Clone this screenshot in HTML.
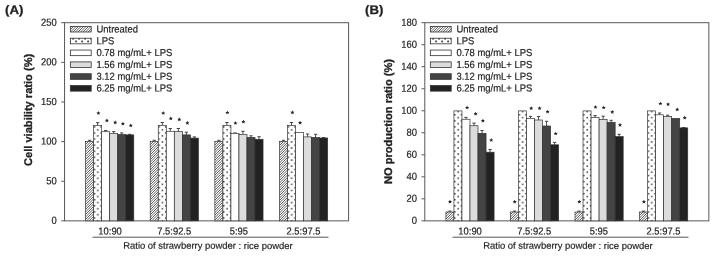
<!DOCTYPE html>
<html><head><meta charset="utf-8"><title>Chart</title>
<style>
html,body{margin:0;padding:0;background:#fff;}
body{width:712px;height:257px;overflow:hidden;}
svg{display:block;opacity:0.999;will-change:transform;}
text{font-family:"Liberation Sans",sans-serif;fill:#222;text-rendering:geometricPrecision;stroke:#222;stroke-width:0.18px;}
.t{font-size:9.45px;}
.x{font-size:9.4px;}
.xt{font-size:9.45px;}
.l{font-size:9.45px;}
.yt{font-size:11.1px;font-weight:bold;stroke:#222;stroke-width:0.3px;}
.lt{font-size:13.2px;font-weight:bold;stroke:#222;stroke-width:0.3px;}
</style></head><body>
<svg width="712" height="257" viewBox="0 0 712 257">
<defs>
<pattern id="hatch" width="2" height="2" patternUnits="userSpaceOnUse">
<rect width="2" height="2" fill="#ececec"/><rect width="1" height="1" fill="#606060"/><rect x="1" y="1" width="1" height="1" fill="#606060"/>
</pattern>
<pattern id="dots" width="6.6" height="6" patternUnits="userSpaceOnUse" patternTransform="translate(-3.9 -0.1)">
<rect width="6.6" height="6" fill="#fff"/>
<circle cx="1.65" cy="1.5" r="0.78" fill="#555"/><circle cx="4.95" cy="4.3" r="0.78" fill="#555"/>
</pattern>
<pattern id="ldots" width="6" height="6" patternUnits="userSpaceOnUse" patternTransform="translate(72 37.9)">
<rect width="6" height="6" fill="#fff"/>
<circle cx="1.1" cy="0.7" r="1.0" fill="#3a3a3a"/><circle cx="4.1" cy="3.6" r="1.0" fill="#3a3a3a"/>
</pattern>
</defs>
<rect width="712" height="257" fill="#fff"/>
<rect x="64.55" y="22.7" width="284.05" height="198.15" fill="none" stroke="#585858" stroke-width="1"/>
<line x1="61.25" y1="220.85" x2="64.55" y2="220.85" stroke="#585858" stroke-width="1"/>
<text transform="translate(56.8 223.8) rotate(0.05) scale(1.0 1.08)" text-anchor="end" class="t">0</text>
<line x1="61.25" y1="181.22" x2="64.55" y2="181.22" stroke="#585858" stroke-width="1"/>
<text transform="translate(56.8 184.17) rotate(0.05) scale(1.0 1.08)" text-anchor="end" class="t">50</text>
<line x1="61.25" y1="141.59" x2="64.55" y2="141.59" stroke="#585858" stroke-width="1"/>
<text transform="translate(56.8 144.54) rotate(0.05) scale(1.0 1.08)" text-anchor="end" class="t">100</text>
<line x1="61.25" y1="101.96" x2="64.55" y2="101.96" stroke="#585858" stroke-width="1"/>
<text transform="translate(56.8 104.91) rotate(0.05) scale(1.0 1.08)" text-anchor="end" class="t">150</text>
<line x1="61.25" y1="62.33" x2="64.55" y2="62.33" stroke="#585858" stroke-width="1"/>
<text transform="translate(56.8 65.28) rotate(0.05) scale(1.0 1.08)" text-anchor="end" class="t">200</text>
<line x1="61.25" y1="22.7" x2="64.55" y2="22.7" stroke="#585858" stroke-width="1"/>
<text transform="translate(56.8 25.65) rotate(0.05) scale(1.0 1.08)" text-anchor="end" class="t">250</text>
<path d="M89.61 141.4V140.3M87.96 140.3H91.27" stroke="#333" stroke-width="0.9" fill="none"/>
<clipPath id="c1"><rect x="85.6" y="141.4" width="8.03" height="79.45"/></clipPath><rect x="85.6" y="141.4" width="8.03" height="79.45" fill="#fff"/><path clip-path="url(#c1)" d="M3.65 221.35L84.1 140.9M6.15 221.35L86.6 140.9M8.65 221.35L89.1 140.9M11.15 221.35L91.6 140.9M13.65 221.35L94.1 140.9M16.15 221.35L96.6 140.9M18.65 221.35L99.1 140.9M21.15 221.35L101.6 140.9M23.65 221.35L104.1 140.9M26.15 221.35L106.6 140.9M28.65 221.35L109.1 140.9M31.15 221.35L111.6 140.9M33.65 221.35L114.1 140.9M36.15 221.35L116.6 140.9M38.65 221.35L119.1 140.9M41.15 221.35L121.6 140.9M43.65 221.35L124.1 140.9M46.15 221.35L126.6 140.9M48.65 221.35L129.1 140.9M51.15 221.35L131.6 140.9M53.65 221.35L134.1 140.9M56.15 221.35L136.6 140.9M58.65 221.35L139.1 140.9M61.15 221.35L141.6 140.9M63.65 221.35L144.1 140.9M66.15 221.35L146.6 140.9M68.65 221.35L149.1 140.9M71.15 221.35L151.6 140.9M73.65 221.35L154.1 140.9M76.15 221.35L156.6 140.9M78.65 221.35L159.1 140.9M81.15 221.35L161.6 140.9M83.65 221.35L164.1 140.9M86.15 221.35L166.6 140.9M88.65 221.35L169.1 140.9M91.15 221.35L171.6 140.9M93.65 221.35L174.1 140.9" stroke="#444" stroke-width="0.85" fill="none"/><rect x="85.6" y="141.4" width="8.03" height="79.45" fill="none" stroke="#333" stroke-width="0.7"/>
<path d="M97.64 125.4V122.6M95.99 122.6H99.3" stroke="#333" stroke-width="0.9" fill="none"/>
<pattern id="dA0" width="6.7" height="6.07" patternUnits="userSpaceOnUse" patternTransform="translate(92.8 4.02)"><rect width="6.7" height="6.07" fill="#fff"/><circle cx="1.68" cy="1.52" r="0.88" fill="#404040"/><circle cx="5.03" cy="4.32" r="0.88" fill="#404040"/></pattern>
<rect x="93.63" y="125.4" width="8.03" height="95.45" fill="url(#dA0)" stroke="#333" stroke-width="0.7"/>
<path d="M105.67 131.7V130.5M104.02 130.5H107.33" stroke="#333" stroke-width="0.9" fill="none"/>
<rect x="101.66" y="131.7" width="8.03" height="89.15" fill="#ffffff" stroke="#333" stroke-width="0.7"/>
<path d="M113.7 133.5V131.6M112.05 131.6H115.36" stroke="#333" stroke-width="0.9" fill="none"/>
<rect x="109.69" y="133.5" width="8.03" height="87.35" fill="#dcdcdc" stroke="#333" stroke-width="0.7"/>
<path d="M121.73 134.5V132.9M120.08 132.9H123.39" stroke="#333" stroke-width="0.9" fill="none"/>
<rect x="117.72" y="134.5" width="8.03" height="86.35" fill="#444444" stroke="#333" stroke-width="0.7"/>
<path d="M129.76 134.9V134.3M128.11 134.3H131.41" stroke="#333" stroke-width="0.9" fill="none"/>
<rect x="125.75" y="134.9" width="8.03" height="85.95" fill="#222222" stroke="#333" stroke-width="0.7"/>
<path transform="translate(98.4 113.1)" d="M0 -2.05L0.62 -0.72L2.05 -0.62L0.98 0.3L1.3 1.75L0 1.0L-1.3 1.75L-0.98 0.3L-2.05 -0.62L-0.62 -0.72Z" fill="#222"/>
<path transform="translate(106.9 120.5)" d="M0 -2.05L0.62 -0.72L2.05 -0.62L0.98 0.3L1.3 1.75L0 1.0L-1.3 1.75L-0.98 0.3L-2.05 -0.62L-0.62 -0.72Z" fill="#222"/>
<path transform="translate(115.2 122.4)" d="M0 -2.05L0.62 -0.72L2.05 -0.62L0.98 0.3L1.3 1.75L0 1.0L-1.3 1.75L-0.98 0.3L-2.05 -0.62L-0.62 -0.72Z" fill="#222"/>
<path transform="translate(122.9 123.8)" d="M0 -2.05L0.62 -0.72L2.05 -0.62L0.98 0.3L1.3 1.75L0 1.0L-1.3 1.75L-0.98 0.3L-2.05 -0.62L-0.62 -0.72Z" fill="#222"/>
<path transform="translate(130.8 125.5)" d="M0 -2.05L0.62 -0.72L2.05 -0.62L0.98 0.3L1.3 1.75L0 1.0L-1.3 1.75L-0.98 0.3L-2.05 -0.62L-0.62 -0.72Z" fill="#222"/>
<path d="M154.24 141.4V140.3M152.59 140.3H155.89" stroke="#333" stroke-width="0.9" fill="none"/>
<clipPath id="c2"><rect x="150.23" y="141.4" width="8.03" height="79.45"/></clipPath><rect x="150.23" y="141.4" width="8.03" height="79.45" fill="#fff"/><path clip-path="url(#c2)" d="M68.65 221.35L149.1 140.9M71.15 221.35L151.6 140.9M73.65 221.35L154.1 140.9M76.15 221.35L156.6 140.9M78.65 221.35L159.1 140.9M81.15 221.35L161.6 140.9M83.65 221.35L164.1 140.9M86.15 221.35L166.6 140.9M88.65 221.35L169.1 140.9M91.15 221.35L171.6 140.9M93.65 221.35L174.1 140.9M96.15 221.35L176.6 140.9M98.65 221.35L179.1 140.9M101.15 221.35L181.6 140.9M103.65 221.35L184.1 140.9M106.15 221.35L186.6 140.9M108.65 221.35L189.1 140.9M111.15 221.35L191.6 140.9M113.65 221.35L194.1 140.9M116.15 221.35L196.6 140.9M118.65 221.35L199.1 140.9M121.15 221.35L201.6 140.9M123.65 221.35L204.1 140.9M126.15 221.35L206.6 140.9M128.65 221.35L209.1 140.9M131.15 221.35L211.6 140.9M133.65 221.35L214.1 140.9M136.15 221.35L216.6 140.9M138.65 221.35L219.1 140.9M141.15 221.35L221.6 140.9M143.65 221.35L224.1 140.9M146.15 221.35L226.6 140.9M148.65 221.35L229.1 140.9M151.15 221.35L231.6 140.9M153.65 221.35L234.1 140.9M156.15 221.35L236.6 140.9M158.65 221.35L239.1 140.9" stroke="#444" stroke-width="0.85" fill="none"/><rect x="150.23" y="141.4" width="8.03" height="79.45" fill="none" stroke="#333" stroke-width="0.7"/>
<path d="M162.27 125.4V122.5M160.62 122.5H163.92" stroke="#333" stroke-width="0.9" fill="none"/>
<pattern id="dA1" width="6.7" height="6.07" patternUnits="userSpaceOnUse" patternTransform="translate(157.43 4.02)"><rect width="6.7" height="6.07" fill="#fff"/><circle cx="1.68" cy="1.52" r="0.88" fill="#404040"/><circle cx="5.03" cy="4.32" r="0.88" fill="#404040"/></pattern>
<rect x="158.26" y="125.4" width="8.03" height="95.45" fill="url(#dA1)" stroke="#333" stroke-width="0.7"/>
<path d="M170.3 131.3V128.5M168.65 128.5H171.95" stroke="#333" stroke-width="0.9" fill="none"/>
<rect x="166.29" y="131.3" width="8.03" height="89.55" fill="#ffffff" stroke="#333" stroke-width="0.7"/>
<path d="M178.33 131.5V128.5M176.68 128.5H179.98" stroke="#333" stroke-width="0.9" fill="none"/>
<rect x="174.32" y="131.5" width="8.03" height="89.35" fill="#dcdcdc" stroke="#333" stroke-width="0.7"/>
<path d="M186.36 134.9V132.2M184.71 132.2H188.01" stroke="#333" stroke-width="0.9" fill="none"/>
<rect x="182.35" y="134.9" width="8.03" height="85.95" fill="#444444" stroke="#333" stroke-width="0.7"/>
<path d="M194.39 138.1V136.9M192.74 136.9H196.04" stroke="#333" stroke-width="0.9" fill="none"/>
<rect x="190.38" y="138.1" width="8.03" height="82.75" fill="#222222" stroke="#333" stroke-width="0.7"/>
<path transform="translate(163.2 113.1)" d="M0 -2.05L0.62 -0.72L2.05 -0.62L0.98 0.3L1.3 1.75L0 1.0L-1.3 1.75L-0.98 0.3L-2.05 -0.62L-0.62 -0.72Z" fill="#222"/>
<path transform="translate(170.8 118.5)" d="M0 -2.05L0.62 -0.72L2.05 -0.62L0.98 0.3L1.3 1.75L0 1.0L-1.3 1.75L-0.98 0.3L-2.05 -0.62L-0.62 -0.72Z" fill="#222"/>
<path transform="translate(179.3 119.4)" d="M0 -2.05L0.62 -0.72L2.05 -0.62L0.98 0.3L1.3 1.75L0 1.0L-1.3 1.75L-0.98 0.3L-2.05 -0.62L-0.62 -0.72Z" fill="#222"/>
<path transform="translate(187.4 122.9)" d="M0 -2.05L0.62 -0.72L2.05 -0.62L0.98 0.3L1.3 1.75L0 1.0L-1.3 1.75L-0.98 0.3L-2.05 -0.62L-0.62 -0.72Z" fill="#222"/>
<path d="M218.87 141.4V140.3M217.22 140.3H220.52" stroke="#333" stroke-width="0.9" fill="none"/>
<clipPath id="c3"><rect x="214.86" y="141.4" width="8.03" height="79.45"/></clipPath><rect x="214.86" y="141.4" width="8.03" height="79.45" fill="#fff"/><path clip-path="url(#c3)" d="M133.65 221.35L214.1 140.9M136.15 221.35L216.6 140.9M138.65 221.35L219.1 140.9M141.15 221.35L221.6 140.9M143.65 221.35L224.1 140.9M146.15 221.35L226.6 140.9M148.65 221.35L229.1 140.9M151.15 221.35L231.6 140.9M153.65 221.35L234.1 140.9M156.15 221.35L236.6 140.9M158.65 221.35L239.1 140.9M161.15 221.35L241.6 140.9M163.65 221.35L244.1 140.9M166.15 221.35L246.6 140.9M168.65 221.35L249.1 140.9M171.15 221.35L251.6 140.9M173.65 221.35L254.1 140.9M176.15 221.35L256.6 140.9M178.65 221.35L259.1 140.9M181.15 221.35L261.6 140.9M183.65 221.35L264.1 140.9M186.15 221.35L266.6 140.9M188.65 221.35L269.1 140.9M191.15 221.35L271.6 140.9M193.65 221.35L274.1 140.9M196.15 221.35L276.6 140.9M198.65 221.35L279.1 140.9M201.15 221.35L281.6 140.9M203.65 221.35L284.1 140.9M206.15 221.35L286.6 140.9M208.65 221.35L289.1 140.9M211.15 221.35L291.6 140.9M213.65 221.35L294.1 140.9M216.15 221.35L296.6 140.9M218.65 221.35L299.1 140.9M221.15 221.35L301.6 140.9M223.65 221.35L304.1 140.9" stroke="#444" stroke-width="0.85" fill="none"/><rect x="214.86" y="141.4" width="8.03" height="79.45" fill="none" stroke="#333" stroke-width="0.7"/>
<path d="M226.9 125.4V122.5M225.25 122.5H228.55" stroke="#333" stroke-width="0.9" fill="none"/>
<pattern id="dA2" width="6.7" height="6.07" patternUnits="userSpaceOnUse" patternTransform="translate(222.06 4.02)"><rect width="6.7" height="6.07" fill="#fff"/><circle cx="1.68" cy="1.52" r="0.88" fill="#404040"/><circle cx="5.03" cy="4.32" r="0.88" fill="#404040"/></pattern>
<rect x="222.89" y="125.4" width="8.03" height="95.45" fill="url(#dA2)" stroke="#333" stroke-width="0.7"/>
<path d="M234.93 133.4V132.9M233.28 132.9H236.58" stroke="#333" stroke-width="0.9" fill="none"/>
<rect x="230.92" y="133.4" width="8.03" height="87.45" fill="#ffffff" stroke="#333" stroke-width="0.7"/>
<path d="M242.96 134.5V131.3M241.31 131.3H244.61" stroke="#333" stroke-width="0.9" fill="none"/>
<rect x="238.95" y="134.5" width="8.03" height="86.35" fill="#dcdcdc" stroke="#333" stroke-width="0.7"/>
<path d="M250.99 137.4V135.8M249.34 135.8H252.64" stroke="#333" stroke-width="0.9" fill="none"/>
<rect x="246.98" y="137.4" width="8.03" height="83.45" fill="#444444" stroke="#333" stroke-width="0.7"/>
<path d="M259.02 139.3V136.7M257.38 136.7H260.67" stroke="#333" stroke-width="0.9" fill="none"/>
<rect x="255.01" y="139.3" width="8.03" height="81.55" fill="#222222" stroke="#333" stroke-width="0.7"/>
<path transform="translate(227.4 112.6)" d="M0 -2.05L0.62 -0.72L2.05 -0.62L0.98 0.3L1.3 1.75L0 1.0L-1.3 1.75L-0.98 0.3L-2.05 -0.62L-0.62 -0.72Z" fill="#222"/>
<path transform="translate(235.4 123.1)" d="M0 -2.05L0.62 -0.72L2.05 -0.62L0.98 0.3L1.3 1.75L0 1.0L-1.3 1.75L-0.98 0.3L-2.05 -0.62L-0.62 -0.72Z" fill="#222"/>
<path transform="translate(243.4 121.7)" d="M0 -2.05L0.62 -0.72L2.05 -0.62L0.98 0.3L1.3 1.75L0 1.0L-1.3 1.75L-0.98 0.3L-2.05 -0.62L-0.62 -0.72Z" fill="#222"/>
<path d="M283.5 141.4V140.3M281.86 140.3H285.15" stroke="#333" stroke-width="0.9" fill="none"/>
<clipPath id="c4"><rect x="279.49" y="141.4" width="8.03" height="79.45"/></clipPath><rect x="279.49" y="141.4" width="8.03" height="79.45" fill="#fff"/><path clip-path="url(#c4)" d="M198.65 221.35L279.1 140.9M201.15 221.35L281.6 140.9M203.65 221.35L284.1 140.9M206.15 221.35L286.6 140.9M208.65 221.35L289.1 140.9M211.15 221.35L291.6 140.9M213.65 221.35L294.1 140.9M216.15 221.35L296.6 140.9M218.65 221.35L299.1 140.9M221.15 221.35L301.6 140.9M223.65 221.35L304.1 140.9M226.15 221.35L306.6 140.9M228.65 221.35L309.1 140.9M231.15 221.35L311.6 140.9M233.65 221.35L314.1 140.9M236.15 221.35L316.6 140.9M238.65 221.35L319.1 140.9M241.15 221.35L321.6 140.9M243.65 221.35L324.1 140.9M246.15 221.35L326.6 140.9M248.65 221.35L329.1 140.9M251.15 221.35L331.6 140.9M253.65 221.35L334.1 140.9M256.15 221.35L336.6 140.9M258.65 221.35L339.1 140.9M261.15 221.35L341.6 140.9M263.65 221.35L344.1 140.9M266.15 221.35L346.6 140.9M268.65 221.35L349.1 140.9M271.15 221.35L351.6 140.9M273.65 221.35L354.1 140.9M276.15 221.35L356.6 140.9M278.65 221.35L359.1 140.9M281.15 221.35L361.6 140.9M283.65 221.35L364.1 140.9M286.15 221.35L366.6 140.9M288.65 221.35L369.1 140.9" stroke="#444" stroke-width="0.85" fill="none"/><rect x="279.49" y="141.4" width="8.03" height="79.45" fill="none" stroke="#333" stroke-width="0.7"/>
<path d="M291.53 125.4V122.5M289.88 122.5H293.18" stroke="#333" stroke-width="0.9" fill="none"/>
<pattern id="dA3" width="6.7" height="6.07" patternUnits="userSpaceOnUse" patternTransform="translate(286.69 4.02)"><rect width="6.7" height="6.07" fill="#fff"/><circle cx="1.68" cy="1.52" r="0.88" fill="#404040"/><circle cx="5.03" cy="4.32" r="0.88" fill="#404040"/></pattern>
<rect x="287.52" y="125.4" width="8.03" height="95.45" fill="url(#dA3)" stroke="#333" stroke-width="0.7"/>
<rect x="295.55" y="132.5" width="8.03" height="88.35" fill="#ffffff" stroke="#333" stroke-width="0.7"/>
<path d="M307.59 136.9V134M305.94 134H309.24" stroke="#333" stroke-width="0.9" fill="none"/>
<rect x="303.58" y="136.9" width="8.03" height="83.95" fill="#dcdcdc" stroke="#333" stroke-width="0.7"/>
<path d="M315.62 137.4V134.3M313.98 134.3H317.27" stroke="#333" stroke-width="0.9" fill="none"/>
<rect x="311.61" y="137.4" width="8.03" height="83.45" fill="#444444" stroke="#333" stroke-width="0.7"/>
<path d="M323.65 138V137.5M322 137.5H325.3" stroke="#333" stroke-width="0.9" fill="none"/>
<rect x="319.64" y="138" width="8.03" height="82.85" fill="#222222" stroke="#333" stroke-width="0.7"/>
<path transform="translate(292.4 112.4)" d="M0 -2.05L0.62 -0.72L2.05 -0.62L0.98 0.3L1.3 1.75L0 1.0L-1.3 1.75L-0.98 0.3L-2.05 -0.62L-0.62 -0.72Z" fill="#222"/>
<path transform="translate(300.1 122.7)" d="M0 -2.05L0.62 -0.72L2.05 -0.62L0.98 0.3L1.3 1.75L0 1.0L-1.3 1.75L-0.98 0.3L-2.05 -0.62L-0.62 -0.72Z" fill="#222"/>
<text transform="translate(110.09 234.4) rotate(0.05) scale(1.0 1.08)" text-anchor="middle" class="x">10:90</text>
<text transform="translate(174.22 234.4) rotate(0.05) scale(1.0 1.08)" text-anchor="middle" class="x">7.5:92.5</text>
<text transform="translate(238.85 234.4) rotate(0.05) scale(1.0 1.08)" text-anchor="middle" class="x">5:95</text>
<text transform="translate(303.48 234.4) rotate(0.05) scale(1.0 1.08)" text-anchor="middle" class="x">2.5:97.5</text>
<line x1="92.5" y1="237.2" x2="328.5" y2="237.2" stroke="#585858" stroke-width="1"/>
<text transform="translate(207.9 248.85) rotate(0.05) scale(1.0 1.0)" text-anchor="middle" class="xt">Ratio of strawberry powder : rice powder</text>
<clipPath id="c5"><rect x="70.35" y="26.4" width="20.85" height="5.6"/></clipPath><rect x="70.35" y="26.4" width="20.85" height="5.6" fill="#fff"/><path clip-path="url(#c5)" d="M62.5 32.5L69.1 25.9M65 32.5L71.6 25.9M67.5 32.5L74.1 25.9M70 32.5L76.6 25.9M72.5 32.5L79.1 25.9M75 32.5L81.6 25.9M77.5 32.5L84.1 25.9M80 32.5L86.6 25.9M82.5 32.5L89.1 25.9M85 32.5L91.6 25.9M87.5 32.5L94.1 25.9M90 32.5L96.6 25.9M92.5 32.5L99.1 25.9" stroke="#444" stroke-width="0.85" fill="none"/><rect x="70.35" y="26.4" width="20.85" height="5.6" fill="none" stroke="#333" stroke-width="0.8"/>
<text transform="translate(96.5 32.4) rotate(0.05) scale(1.0 1.07)" class="l">Untreated</text>
<rect x="70.35" y="38.23" width="20.85" height="5.6" fill="url(#ldots)" stroke="#333" stroke-width="0.8"/>
<text transform="translate(96.5 44.23) rotate(0.05) scale(1.0 1.07)" class="l">LPS</text>
<rect x="70.35" y="50.06" width="20.85" height="5.6" fill="#ffffff" stroke="#333" stroke-width="0.8"/>
<text transform="translate(96.5 56.06) rotate(0.05) scale(1.0 1.07)" class="l">0.78 mg/mL+ LPS</text>
<rect x="70.35" y="61.89" width="20.85" height="5.6" fill="#dcdcdc" stroke="#333" stroke-width="0.8"/>
<text transform="translate(96.5 67.89) rotate(0.05) scale(1.0 1.07)" class="l">1.56 mg/mL+ LPS</text>
<rect x="70.35" y="73.72" width="20.85" height="5.6" fill="#444444" stroke="#333" stroke-width="0.8"/>
<text transform="translate(96.5 79.72) rotate(0.05) scale(1.0 1.07)" class="l">3.12 mg/mL+ LPS</text>
<rect x="70.35" y="85.55" width="20.85" height="5.6" fill="#222222" stroke="#333" stroke-width="0.8"/>
<text transform="translate(96.5 91.55) rotate(0.05) scale(1.0 1.07)" class="l">6.25 mg/mL+ LPS</text>
<text transform="translate(31.5,109.9) rotate(-90)" text-anchor="middle" class="yt">Cell viability ratio (%)</text>
<text transform="translate(5 13.9) rotate(0.05) scale(1.0 0.94)" class="lt">(A)</text>
<rect x="424.8" y="22.7" width="284.05" height="198.15" fill="none" stroke="#585858" stroke-width="1"/>
<line x1="421.5" y1="220.85" x2="424.8" y2="220.85" stroke="#585858" stroke-width="1"/>
<text transform="translate(417.05 223.8) rotate(0.05) scale(1.0 1.08)" text-anchor="end" class="t">0</text>
<line x1="421.5" y1="198.83" x2="424.8" y2="198.83" stroke="#585858" stroke-width="1"/>
<text transform="translate(417.05 201.78) rotate(0.05) scale(1.0 1.08)" text-anchor="end" class="t">20</text>
<line x1="421.5" y1="176.82" x2="424.8" y2="176.82" stroke="#585858" stroke-width="1"/>
<text transform="translate(417.05 179.77) rotate(0.05) scale(1.0 1.08)" text-anchor="end" class="t">40</text>
<line x1="421.5" y1="154.8" x2="424.8" y2="154.8" stroke="#585858" stroke-width="1"/>
<text transform="translate(417.05 157.75) rotate(0.05) scale(1.0 1.08)" text-anchor="end" class="t">60</text>
<line x1="421.5" y1="132.78" x2="424.8" y2="132.78" stroke="#585858" stroke-width="1"/>
<text transform="translate(417.05 135.73) rotate(0.05) scale(1.0 1.08)" text-anchor="end" class="t">80</text>
<line x1="421.5" y1="110.77" x2="424.8" y2="110.77" stroke="#585858" stroke-width="1"/>
<text transform="translate(417.05 113.72) rotate(0.05) scale(1.0 1.08)" text-anchor="end" class="t">100</text>
<line x1="421.5" y1="88.75" x2="424.8" y2="88.75" stroke="#585858" stroke-width="1"/>
<text transform="translate(417.05 91.7) rotate(0.05) scale(1.0 1.08)" text-anchor="end" class="t">120</text>
<line x1="421.5" y1="66.73" x2="424.8" y2="66.73" stroke="#585858" stroke-width="1"/>
<text transform="translate(417.05 69.68) rotate(0.05) scale(1.0 1.08)" text-anchor="end" class="t">140</text>
<line x1="421.5" y1="44.72" x2="424.8" y2="44.72" stroke="#585858" stroke-width="1"/>
<text transform="translate(417.05 47.67) rotate(0.05) scale(1.0 1.08)" text-anchor="end" class="t">160</text>
<line x1="421.5" y1="22.7" x2="424.8" y2="22.7" stroke="#585858" stroke-width="1"/>
<text transform="translate(417.05 25.65) rotate(0.05) scale(1.0 1.08)" text-anchor="end" class="t">180</text>
<path d="M449.92 212V211.1M448.27 211.1H451.56" stroke="#333" stroke-width="0.9" fill="none"/>
<clipPath id="c6"><rect x="445.9" y="212" width="8.03" height="8.85"/></clipPath><rect x="445.9" y="212" width="8.03" height="8.85" fill="#fff"/><path clip-path="url(#c6)" d="M436.15 221.35L446 211.5M438.65 221.35L448.5 211.5M441.15 221.35L451 211.5M443.65 221.35L453.5 211.5M446.15 221.35L456 211.5M448.65 221.35L458.5 211.5M451.15 221.35L461 211.5M453.65 221.35L463.5 211.5" stroke="#444" stroke-width="0.85" fill="none"/><rect x="445.9" y="212" width="8.03" height="8.85" fill="none" stroke="#333" stroke-width="0.7"/>
<pattern id="dB0" width="6.7" height="6.07" patternUnits="userSpaceOnUse" patternTransform="translate(453.11 4.02)"><rect width="6.7" height="6.07" fill="#fff"/><circle cx="1.68" cy="1.52" r="0.88" fill="#404040"/><circle cx="5.03" cy="4.32" r="0.88" fill="#404040"/></pattern>
<rect x="453.93" y="110.9" width="8.03" height="109.95" fill="url(#dB0)" stroke="#333" stroke-width="0.7"/>
<path d="M465.98 119.25V117.4M464.33 117.4H467.62" stroke="#333" stroke-width="0.9" fill="none"/>
<rect x="461.96" y="119.25" width="8.03" height="101.6" fill="#ffffff" stroke="#333" stroke-width="0.7"/>
<path d="M474 125.75V123.1M472.36 123.1H475.65" stroke="#333" stroke-width="0.9" fill="none"/>
<rect x="469.99" y="125.75" width="8.03" height="95.1" fill="#dcdcdc" stroke="#333" stroke-width="0.7"/>
<path d="M482.04 133.35V130.55M480.39 130.55H483.69" stroke="#333" stroke-width="0.9" fill="none"/>
<rect x="478.02" y="133.35" width="8.03" height="87.5" fill="#444444" stroke="#333" stroke-width="0.7"/>
<path d="M490.06 152.2V149.5M488.42 149.5H491.71" stroke="#333" stroke-width="0.9" fill="none"/>
<rect x="486.05" y="152.2" width="8.03" height="68.65" fill="#222222" stroke="#333" stroke-width="0.7"/>
<path transform="translate(450 201.7)" d="M0 -2.05L0.62 -0.72L2.05 -0.62L0.98 0.3L1.3 1.75L0 1.0L-1.3 1.75L-0.98 0.3L-2.05 -0.62L-0.62 -0.72Z" fill="#222"/>
<path transform="translate(467.1 107.6)" d="M0 -2.05L0.62 -0.72L2.05 -0.62L0.98 0.3L1.3 1.75L0 1.0L-1.3 1.75L-0.98 0.3L-2.05 -0.62L-0.62 -0.72Z" fill="#222"/>
<path transform="translate(475.6 113.7)" d="M0 -2.05L0.62 -0.72L2.05 -0.62L0.98 0.3L1.3 1.75L0 1.0L-1.3 1.75L-0.98 0.3L-2.05 -0.62L-0.62 -0.72Z" fill="#222"/>
<path transform="translate(482.9 120.8)" d="M0 -2.05L0.62 -0.72L2.05 -0.62L0.98 0.3L1.3 1.75L0 1.0L-1.3 1.75L-0.98 0.3L-2.05 -0.62L-0.62 -0.72Z" fill="#222"/>
<path transform="translate(491.2 140.1)" d="M0 -2.05L0.62 -0.72L2.05 -0.62L0.98 0.3L1.3 1.75L0 1.0L-1.3 1.75L-0.98 0.3L-2.05 -0.62L-0.62 -0.72Z" fill="#222"/>
<path d="M514.47 212V211.1M512.82 211.1H516.12" stroke="#333" stroke-width="0.9" fill="none"/>
<clipPath id="c7"><rect x="510.45" y="212" width="8.03" height="8.85"/></clipPath><rect x="510.45" y="212" width="8.03" height="8.85" fill="#fff"/><path clip-path="url(#c7)" d="M498.65 221.35L508.5 211.5M501.15 221.35L511 211.5M503.65 221.35L513.5 211.5M506.15 221.35L516 211.5M508.65 221.35L518.5 211.5M511.15 221.35L521 211.5M513.65 221.35L523.5 211.5M516.15 221.35L526 211.5M518.65 221.35L528.5 211.5" stroke="#444" stroke-width="0.85" fill="none"/><rect x="510.45" y="212" width="8.03" height="8.85" fill="none" stroke="#333" stroke-width="0.7"/>
<pattern id="dB1" width="6.7" height="6.07" patternUnits="userSpaceOnUse" patternTransform="translate(517.66 4.02)"><rect width="6.7" height="6.07" fill="#fff"/><circle cx="1.68" cy="1.52" r="0.88" fill="#404040"/><circle cx="5.03" cy="4.32" r="0.88" fill="#404040"/></pattern>
<rect x="518.48" y="110.9" width="8.03" height="109.95" fill="url(#dB1)" stroke="#333" stroke-width="0.7"/>
<path d="M530.52 118.4V116.4M528.88 116.4H532.17" stroke="#333" stroke-width="0.9" fill="none"/>
<rect x="526.51" y="118.4" width="8.03" height="102.45" fill="#ffffff" stroke="#333" stroke-width="0.7"/>
<path d="M538.56 120V116.5M536.91 116.5H540.21" stroke="#333" stroke-width="0.9" fill="none"/>
<rect x="534.54" y="120" width="8.03" height="100.85" fill="#dcdcdc" stroke="#333" stroke-width="0.7"/>
<path d="M546.59 126V121.3M544.94 121.3H548.24" stroke="#333" stroke-width="0.9" fill="none"/>
<rect x="542.57" y="126" width="8.03" height="94.85" fill="#444444" stroke="#333" stroke-width="0.7"/>
<path d="M554.62 144.8V142.4M552.97 142.4H556.26" stroke="#333" stroke-width="0.9" fill="none"/>
<rect x="550.6" y="144.8" width="8.03" height="76.05" fill="#222222" stroke="#333" stroke-width="0.7"/>
<path transform="translate(514.7 201.7)" d="M0 -2.05L0.62 -0.72L2.05 -0.62L0.98 0.3L1.3 1.75L0 1.0L-1.3 1.75L-0.98 0.3L-2.05 -0.62L-0.62 -0.72Z" fill="#222"/>
<path transform="translate(531.2 108.3)" d="M0 -2.05L0.62 -0.72L2.05 -0.62L0.98 0.3L1.3 1.75L0 1.0L-1.3 1.75L-0.98 0.3L-2.05 -0.62L-0.62 -0.72Z" fill="#222"/>
<path transform="translate(539.6 108.3)" d="M0 -2.05L0.62 -0.72L2.05 -0.62L0.98 0.3L1.3 1.75L0 1.0L-1.3 1.75L-0.98 0.3L-2.05 -0.62L-0.62 -0.72Z" fill="#222"/>
<path transform="translate(547.6 111.8)" d="M0 -2.05L0.62 -0.72L2.05 -0.62L0.98 0.3L1.3 1.75L0 1.0L-1.3 1.75L-0.98 0.3L-2.05 -0.62L-0.62 -0.72Z" fill="#222"/>
<path transform="translate(555.7 133.6)" d="M0 -2.05L0.62 -0.72L2.05 -0.62L0.98 0.3L1.3 1.75L0 1.0L-1.3 1.75L-0.98 0.3L-2.05 -0.62L-0.62 -0.72Z" fill="#222"/>
<path d="M579.01 212V211.1M577.37 211.1H580.66" stroke="#333" stroke-width="0.9" fill="none"/>
<clipPath id="c8"><rect x="575" y="212" width="8.03" height="8.85"/></clipPath><rect x="575" y="212" width="8.03" height="8.85" fill="#fff"/><path clip-path="url(#c8)" d="M563.65 221.35L573.5 211.5M566.15 221.35L576 211.5M568.65 221.35L578.5 211.5M571.15 221.35L581 211.5M573.65 221.35L583.5 211.5M576.15 221.35L586 211.5M578.65 221.35L588.5 211.5M581.15 221.35L591 211.5M583.65 221.35L593.5 211.5" stroke="#444" stroke-width="0.85" fill="none"/><rect x="575" y="212" width="8.03" height="8.85" fill="none" stroke="#333" stroke-width="0.7"/>
<pattern id="dB2" width="6.7" height="6.07" patternUnits="userSpaceOnUse" patternTransform="translate(582.21 4.02)"><rect width="6.7" height="6.07" fill="#fff"/><circle cx="1.68" cy="1.52" r="0.88" fill="#404040"/><circle cx="5.03" cy="4.32" r="0.88" fill="#404040"/></pattern>
<rect x="583.03" y="110.9" width="8.03" height="109.95" fill="url(#dB2)" stroke="#333" stroke-width="0.7"/>
<path d="M595.07 117.6V115.6M593.42 115.6H596.72" stroke="#333" stroke-width="0.9" fill="none"/>
<rect x="591.06" y="117.6" width="8.03" height="103.25" fill="#ffffff" stroke="#333" stroke-width="0.7"/>
<path d="M603.11 119.4V116.2M601.46 116.2H604.75" stroke="#333" stroke-width="0.9" fill="none"/>
<rect x="599.09" y="119.4" width="8.03" height="101.45" fill="#dcdcdc" stroke="#333" stroke-width="0.7"/>
<path d="M611.13 122.3V120.3M609.49 120.3H612.78" stroke="#333" stroke-width="0.9" fill="none"/>
<rect x="607.12" y="122.3" width="8.03" height="98.55" fill="#444444" stroke="#333" stroke-width="0.7"/>
<path d="M619.16 136.6V134.3M617.51 134.3H620.81" stroke="#333" stroke-width="0.9" fill="none"/>
<rect x="615.15" y="136.6" width="8.03" height="84.25" fill="#222222" stroke="#333" stroke-width="0.7"/>
<path transform="translate(579.3 201.7)" d="M0 -2.05L0.62 -0.72L2.05 -0.62L0.98 0.3L1.3 1.75L0 1.0L-1.3 1.75L-0.98 0.3L-2.05 -0.62L-0.62 -0.72Z" fill="#222"/>
<path transform="translate(595.5 107.1)" d="M0 -2.05L0.62 -0.72L2.05 -0.62L0.98 0.3L1.3 1.75L0 1.0L-1.3 1.75L-0.98 0.3L-2.05 -0.62L-0.62 -0.72Z" fill="#222"/>
<path transform="translate(603.7 107.6)" d="M0 -2.05L0.62 -0.72L2.05 -0.62L0.98 0.3L1.3 1.75L0 1.0L-1.3 1.75L-0.98 0.3L-2.05 -0.62L-0.62 -0.72Z" fill="#222"/>
<path transform="translate(612.3 111.9)" d="M0 -2.05L0.62 -0.72L2.05 -0.62L0.98 0.3L1.3 1.75L0 1.0L-1.3 1.75L-0.98 0.3L-2.05 -0.62L-0.62 -0.72Z" fill="#222"/>
<path transform="translate(620 124.9)" d="M0 -2.05L0.62 -0.72L2.05 -0.62L0.98 0.3L1.3 1.75L0 1.0L-1.3 1.75L-0.98 0.3L-2.05 -0.62L-0.62 -0.72Z" fill="#222"/>
<path d="M643.56 212V211.1M641.91 211.1H645.21" stroke="#333" stroke-width="0.9" fill="none"/>
<clipPath id="c9"><rect x="639.55" y="212" width="8.03" height="8.85"/></clipPath><rect x="639.55" y="212" width="8.03" height="8.85" fill="#fff"/><path clip-path="url(#c9)" d="M628.65 221.35L638.5 211.5M631.15 221.35L641 211.5M633.65 221.35L643.5 211.5M636.15 221.35L646 211.5M638.65 221.35L648.5 211.5M641.15 221.35L651 211.5M643.65 221.35L653.5 211.5M646.15 221.35L656 211.5M648.65 221.35L658.5 211.5" stroke="#444" stroke-width="0.85" fill="none"/><rect x="639.55" y="212" width="8.03" height="8.85" fill="none" stroke="#333" stroke-width="0.7"/>
<pattern id="dB3" width="6.7" height="6.07" patternUnits="userSpaceOnUse" patternTransform="translate(646.75 4.02)"><rect width="6.7" height="6.07" fill="#fff"/><circle cx="1.68" cy="1.52" r="0.88" fill="#404040"/><circle cx="5.03" cy="4.32" r="0.88" fill="#404040"/></pattern>
<rect x="647.58" y="110.9" width="8.03" height="109.95" fill="url(#dB3)" stroke="#333" stroke-width="0.7"/>
<path d="M659.62 114.8V113M657.97 113H661.27" stroke="#333" stroke-width="0.9" fill="none"/>
<rect x="655.61" y="114.8" width="8.03" height="106.05" fill="#ffffff" stroke="#333" stroke-width="0.7"/>
<path d="M667.65 116.5V115.2M666 115.2H669.3" stroke="#333" stroke-width="0.9" fill="none"/>
<rect x="663.64" y="116.5" width="8.03" height="104.35" fill="#dcdcdc" stroke="#333" stroke-width="0.7"/>
<rect x="671.67" y="118.4" width="8.03" height="102.45" fill="#444444" stroke="#333" stroke-width="0.7"/>
<path d="M683.71 127.9V127.5M682.06 127.5H685.36" stroke="#333" stroke-width="0.9" fill="none"/>
<rect x="679.7" y="127.9" width="8.03" height="92.95" fill="#222222" stroke="#333" stroke-width="0.7"/>
<path transform="translate(643.9 201.7)" d="M0 -2.05L0.62 -0.72L2.05 -0.62L0.98 0.3L1.3 1.75L0 1.0L-1.3 1.75L-0.98 0.3L-2.05 -0.62L-0.62 -0.72Z" fill="#222"/>
<path transform="translate(660.4 103.6)" d="M0 -2.05L0.62 -0.72L2.05 -0.62L0.98 0.3L1.3 1.75L0 1.0L-1.3 1.75L-0.98 0.3L-2.05 -0.62L-0.62 -0.72Z" fill="#222"/>
<path transform="translate(668.1 104.3)" d="M0 -2.05L0.62 -0.72L2.05 -0.62L0.98 0.3L1.3 1.75L0 1.0L-1.3 1.75L-0.98 0.3L-2.05 -0.62L-0.62 -0.72Z" fill="#222"/>
<path transform="translate(677.2 109.5)" d="M0 -2.05L0.62 -0.72L2.05 -0.62L0.98 0.3L1.3 1.75L0 1.0L-1.3 1.75L-0.98 0.3L-2.05 -0.62L-0.62 -0.72Z" fill="#222"/>
<path transform="translate(684.7 117.7)" d="M0 -2.05L0.62 -0.72L2.05 -0.62L0.98 0.3L1.3 1.75L0 1.0L-1.3 1.75L-0.98 0.3L-2.05 -0.62L-0.62 -0.72Z" fill="#222"/>
<text transform="translate(470.09 234.4) rotate(0.05) scale(1.0 1.08)" text-anchor="middle" class="x">10:90</text>
<text transform="translate(534.22 234.4) rotate(0.05) scale(1.0 1.08)" text-anchor="middle" class="x">7.5:92.5</text>
<text transform="translate(598.85 234.4) rotate(0.05) scale(1.0 1.08)" text-anchor="middle" class="x">5:95</text>
<text transform="translate(663.48 234.4) rotate(0.05) scale(1.0 1.08)" text-anchor="middle" class="x">2.5:97.5</text>
<line x1="452.5" y1="237.2" x2="688.5" y2="237.2" stroke="#585858" stroke-width="1"/>
<text transform="translate(567.9 248.85) rotate(0.05) scale(1.0 1.0)" text-anchor="middle" class="xt">Ratio of strawberry powder : rice powder</text>
<clipPath id="c10"><rect x="430.35" y="26.4" width="20.85" height="5.6"/></clipPath><rect x="430.35" y="26.4" width="20.85" height="5.6" fill="#fff"/><path clip-path="url(#c10)" d="M422.5 32.5L429.1 25.9M425 32.5L431.6 25.9M427.5 32.5L434.1 25.9M430 32.5L436.6 25.9M432.5 32.5L439.1 25.9M435 32.5L441.6 25.9M437.5 32.5L444.1 25.9M440 32.5L446.6 25.9M442.5 32.5L449.1 25.9M445 32.5L451.6 25.9M447.5 32.5L454.1 25.9M450 32.5L456.6 25.9M452.5 32.5L459.1 25.9" stroke="#444" stroke-width="0.85" fill="none"/><rect x="430.35" y="26.4" width="20.85" height="5.6" fill="none" stroke="#333" stroke-width="0.8"/>
<text transform="translate(456.5 32.4) rotate(0.05) scale(1.0 1.07)" class="l">Untreated</text>
<rect x="430.35" y="38.23" width="20.85" height="5.6" fill="url(#ldots)" stroke="#333" stroke-width="0.8"/>
<text transform="translate(456.5 44.23) rotate(0.05) scale(1.0 1.07)" class="l">LPS</text>
<rect x="430.35" y="50.06" width="20.85" height="5.6" fill="#ffffff" stroke="#333" stroke-width="0.8"/>
<text transform="translate(456.5 56.06) rotate(0.05) scale(1.0 1.07)" class="l">0.78 mg/mL+ LPS</text>
<rect x="430.35" y="61.89" width="20.85" height="5.6" fill="#dcdcdc" stroke="#333" stroke-width="0.8"/>
<text transform="translate(456.5 67.89) rotate(0.05) scale(1.0 1.07)" class="l">1.56 mg/mL+ LPS</text>
<rect x="430.35" y="73.72" width="20.85" height="5.6" fill="#444444" stroke="#333" stroke-width="0.8"/>
<text transform="translate(456.5 79.72) rotate(0.05) scale(1.0 1.07)" class="l">3.12 mg/mL+ LPS</text>
<rect x="430.35" y="85.55" width="20.85" height="5.6" fill="#222222" stroke="#333" stroke-width="0.8"/>
<text transform="translate(456.5 91.55) rotate(0.05) scale(1.0 1.07)" class="l">6.25 mg/mL+ LPS</text>
<text transform="translate(391.5,121.55) rotate(-90)" text-anchor="middle" class="yt">NO production ratio (%)</text>
<text transform="translate(365 13.9) rotate(0.05) scale(1.0 0.94)" class="lt">(B)</text>
</svg>
</body></html>
